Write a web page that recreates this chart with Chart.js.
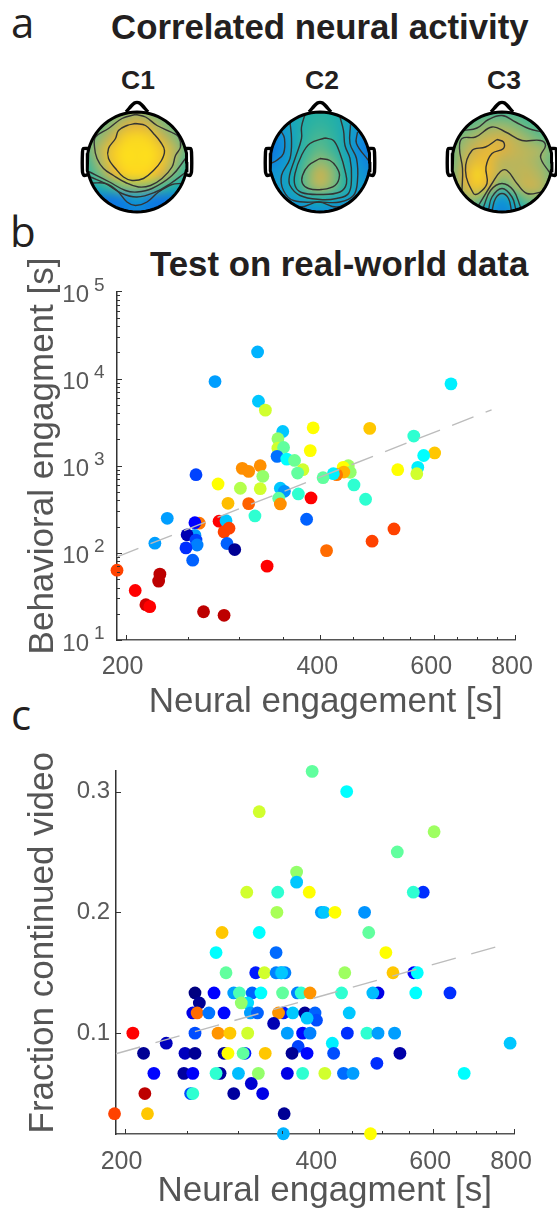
<!DOCTYPE html>
<html>
<head>
<meta charset="utf-8">
<script src="https://cdn.jsdelivr.net/npm/chart.js@4"></script>
<style>
  html, body { margin: 0; padding: 0; background: #fff; width: 557px; height: 1209px; overflow: hidden; }
  canvas { position: absolute; }
  .txt { position: absolute; white-space: nowrap; font-family: "Liberation Sans", sans-serif; color: #231f20; }
  .ttl { font-weight: bold; font-size: 34.8px; line-height: 40px; }
  .cap { font-weight: bold; font-size: 26.5px; line-height: 30px; width: 60px; text-align: center; }
  .pan { font-family: "Open Sans", sans-serif; font-size: 42px; line-height: 50px; }
</style>
</head>
<body>
<div class="txt pan" style="left:11px;top:-3px">a</div>
<div class="txt pan" style="left:10px;top:206px">b</div>
<div class="txt pan" style="left:11px;top:689px">c</div>
<div class="txt ttl" style="left:111px;top:7px">Correlated neural activity</div>
<div class="txt ttl" style="left:150px;top:244px">Test on real-world data</div>
<div class="txt cap" style="left:108px;top:65px">C1</div>
<div class="txt cap" style="left:292px;top:65px">C2</div>
<div class="txt cap" style="left:474px;top:65px">C3</div>
<canvas id="headC1" width="130" height="130" style="left:72px;top:97px"></canvas>
<canvas id="headC2" width="130" height="130" style="left:255px;top:97px"></canvas>
<canvas id="headC3" width="130" height="130" style="left:437px;top:97px"></canvas>
<canvas id="chartB" width="557" height="481" style="left:0;top:249px"></canvas>
<canvas id="chartC" width="557" height="472" style="left:0;top:740px"></canvas>
<script>
// panel b: neural vs behavioral engagement
const bX = [320,275,321,329,350,344,390,344,351,386,343,355,365,376,369,303,310,323,326,257,278,301,323,347,352,345,370,387,288,310,347,317,232,381,260,256,279,286,289,284,256,249,257,258,248,287,295,222,254,331,194,226,225,207,215,218,264,284,637,477,558,601,578,566,564,527,442,434,445,435,424,419,404,451,470,481,520,409];
const bY = [20200,9240,5500,4340,2470,2040,2720,1590,1620,1490,1280,1190,1150,900,824,932,861,1000,755,789,617,551,545,551,508,423,474,427,370,367,364,265,249,243,219,222,231,234,192,174,159,161,140,123,114,128,109,129,82.4,70.4,63.3,57,47.4,37,25.4,24.1,21.1,19.2,8690,2680,2190,1400,1310,957,810,900,1000,957,839,846,789,810,729,601,412,136,188,106];
const bColor = [.3,.28,.32,.58,.32,.52,.625,.58,.47,.625,.235,.375,.48,.58,.47,.735,.735,.735,.52,.19,.625,.55,.58,.32,.27,.47,.42,.875,.69,.78,.735,.42,.28,.22,.76,.125,.875,.32,.81,.81,.28,.05,.19,.25,.17,.22,.02,.28,.22,.875,.81,.94,.94,.875,.92,.875,.94,.94,.36,.68,.42,.68,.375,.36,.58,.625,.53,.625,.52,.7,.76,.36,.47,.42,.42,.81,.81,.77];
const bTrendX = [194, 736];
const bTrendY = [90, 4380];

// panel c: neural engagement vs fraction continued
const cX = [390,441,323,602,528,369,369,309,345,386,579,559,344,403,407,423,470,283,323,477,277,343,507,287,319,329,343,354,349,350,438,520,560,567,257,275,295,301,315,325,351,370,375,387,433,493,484,564,637,261,310,303,255,259,270,285,313,321,352,346,364,380,394,445,340,396,383,206,257,279,291,310,357,377,387,442,474,493,523,232,419,789,371,214,248,257,285,289,307,305,330,363,383,421,533,491,222,247,255,281,277,300,322,357,377,408,436,451,670,314,215,253,255,295,327,193,217,353,352,480];
const cY = [.3167,.3,.2833,.2667,.25,.2333,.225,.2167,.2167,.2167,.2167,.2167,.2,.2,.2,.2,.2,.1833,.1833,.1833,.1667,.1667,.1667,.15,.15,.15,.15,.15,.15,.15,.15,.15,.15,.15,.1333,.1333,.1333,.1333,.1333,.1333,.1333,.1333,.1333,.1333,.1333,.1333,.1333,.1333,.1333,.125,.125,.125,.1167,.1167,.1167,.1167,.1167,.1167,.1167,.1167,.1167,.1167,.1167,.1167,.108,.1107,.1124,.1,.1,.1,.1,.1,.1,.1,.1,.1,.1,.1,.1,.0917,.0917,.0917,.089,.0833,.0833,.0833,.0833,.0833,.0833,.0833,.0833,.0833,.0833,.0833,.0833,.075,.0667,.0667,.0667,.0667,.0667,.0667,.0667,.0667,.0667,.0667,.0667,.0667,.0667,.0583,.05,.05,.05,.05,.05,.0333,.0333,.0333,.0167,.0167];
const cColor = [.47,.375,.58,.53,.47,.52,.32,.58,.42,.625,.17,.42,.54,.28,.32,.625,.27,.68,.375,.47,.375,.23,.625,.47,.15,.58,.25,.25,.28,.32,.53,.68,.125,.375,0,.125,.28,.45,.22,.375,.47,.25,.42,.73,.42,.1,.31,.375,.17,.02,.34,.52,.1,.77,.24,.13,.28,.22,.15,.73,.32,.02,.22,.32,.05,.2,.32,.875,.2,.73,.68,.58,.28,.13,.25,.17,.42,.28,.28,.06,.36,.32,.19,.02,.06,.02,.03,.625,.15,.47,.68,.02,.13,.2,.04,.17,.13,.03,.12,.03,.42,.31,.52,.1,.42,.58,.23,.28,.375,.08,.94,.2,.42,.03,.1,.81,.68,.02,.3,.625];
const cTrendX = [194, 789];
const cTrendY = [.0829, .1747];

// axis ticks
const xTicks = [200,250,300,350,400,450,500,550,600,650,700,750,800];
const xLabels = [200,400,600,800];
const bDecades = [10,100,1000,10000];
const bYTop = 100000;
const cYTicks = [.1,.2,.3];

// scalp maps, rows run from front of head to back
const c1Grid = [
  [.6,.6,.6,.62,.68,.62,.6,.6,.6],
  [.55,.57,.66,.8,.86,.8,.66,.57,.55],
  [.55,.65,.8,.95,.98,.95,.8,.65,.55],
  [.58,.74,.93,1,1,1,.93,.74,.58],
  [.5,.7,.92,1,1,1,.92,.7,.5],
  [.45,.6,.82,.95,.98,.95,.82,.6,.45],
  [.32,.38,.5,.63,.66,.63,.5,.38,.32],
  [.08,.06,.04,.12,.25,.1,.04,.06,.08],
  [.05,.05,.05,.06,.1,.06,.05,.05,.05]
];
const c2Grid = [
  [.3,.3,.35,.4,.42,.4,.35,.3,.25],
  [.2,.25,.33,.42,.45,.42,.33,.22,.15],
  [.08,.18,.33,.45,.5,.45,.33,.18,.08],
  [.03,.15,.33,.48,.56,.48,.33,.15,.05],
  [.1,.2,.35,.55,.66,.58,.38,.2,.1],
  [.2,.25,.38,.62,.78,.65,.42,.25,.15],
  [.22,.25,.38,.6,.72,.62,.42,.27,.2],
  [.2,.2,.25,.33,.38,.33,.27,.2,.15],
  [.12,.12,.12,.14,.18,.14,.12,.12,.12]
];
const c3Grid = [
  [.45,.45,.48,.5,.5,.5,.48,.45,.45],
  [.5,.52,.6,.65,.66,.62,.55,.5,.45],
  [.55,.65,.72,.78,.8,.74,.66,.58,.55],
  [.6,.72,.82,.88,.84,.78,.74,.7,.6],
  [.6,.78,.9,.88,.76,.75,.74,.68,.58],
  [.62,.85,.97,.88,.72,.74,.77,.72,.62],
  [.6,.8,.92,.8,.55,.68,.78,.75,.62],
  [.55,.65,.65,.45,.2,.42,.6,.62,.55],
  [.5,.5,.4,.2,.12,.2,.4,.5,.5]
];
const c1Contours = [
  [[-.03,.77],[.17,.73],[.33,.57],[.47,.4],[.55,.23],[.49,.03],[.33,-.17],[.13,-.33],[-.1,-.37],[-.27,-.3],[-.43,-.13],[-.57,.07],[-.57,.27],[-.43,.47],[-.37,.63],[-.2,.73],[-.03,.77]],
  [[-.03,.95],[.17,.9],[.4,.73],[.7,.59],[.83,.5],[.87,.3],[.77,.13],[.7,-.1],[.5,-.33],[.27,-.47],[.03,-.5],[-.23,-.41],[-.47,-.27],[-.67,-.13],[-.8,.07],[-.85,.3],[-.83,.5],[-.57,.67],[-.3,.87],[-.03,.95]],
  [[-.97,-.19],[-.57,-.39],[-.23,-.57],[0,-.6],[.3,-.53],[.7,-.27],[.97,.07]],
  [[-.93,-.3],[-.63,-.43],[-.3,-.63],[0,-.7],[.37,-.6],[.67,-.43],[.97,-.21]],
  [[-.9,-.42],[-.63,-.43],[-.4,-.57],[-.2,-.8],[-.03,-.87],[.2,-.8],[.43,-.6],[.7,-.45],[.9,-.43]]
];
const c2Contours = [
  [[0,.07],[.2,.03],[.33,-.1],[.39,-.27],[.3,-.47],[.03,-.55],[-.23,-.53],[-.35,-.43],[-.35,-.27],[-.23,-.07],[0,.07]],
  [[.1,.48],[.27,.43],[.4,.17],[.5,-.17],[.53,-.43],[.4,-.6],[0,-.65],[-.37,-.61],[-.5,-.47],[-.5,-.23],[-.37,.13],[-.2,.37],[.1,.48]],
  [[-.3,.95],[-.37,.7],[-.37,.47],[-.5,.07],[-.61,-.27],[-.6,-.47],[-.4,-.67],[0,-.75],[.33,-.73],[.57,-.63],[.63,-.3],[.6,.07],[.5,.33],[.47,.63],[.4,.9]],
  [[-.6,.8],[-.57,.47],[-.6,.07],[-.77,-.27],[-.73,-.57],[-.53,-.77],[0,-.8],[.4,-.8],[.67,-.67],[.75,-.37],[.73,.07],[.6,.37],[.61,.75]],
  [[-.78,.62],[-.71,.47],[-.73,.17],[-.87,.03],[-.98,-.03]],
  [[.75,.6],[.73,.37],[.97,.03]],
  [[-.62,-.78],[-.4,-.9],[-.03,-.8],[.33,-.9],[.62,-.78]]
];
const c3Contours = [
  [[-.77,.63],[-.5,.68],[-.27,.85],[0,.93],[.27,.8],[.53,.67],[.8,.6]],
  [[-.8,-.57],[-.79,-.13],[-.85,.27],[-.8,.47],[-.53,.5],[-.2,.7],[.07,.6],[.4,.43],[.77,.43],[.87,.33],[.77,.1],[.95,-.21]],
  [[-.1,.45],[.03,.4],[.03,.27],[-.2,.17],[-.32,-.1],[-.3,-.43],[-.47,-.63],[-.57,-.63],[-.73,-.17],[-.6,.23],[-.33,.3],[-.1,.45]],
  [[-.47,-.87],[-.2,-.43],[-.03,-.19],[.1,-.17],[.3,-.43],[.5,-.63],[.8,-.6]],
  [[-.37,-.9],[-.23,-.57],[0,-.43],[.23,-.57],[.37,-.9]],
  [[-.27,-.96],[-.2,-.7],[0,-.53],[.2,-.7],[.28,-.96]],
  [[-.2,-.98],[-.13,-.73],[0,-.63],[.13,-.73],[.19,-.98]]
];
const noseLine = [[-.22,1.0],[-.05,1.18],[.05,1.18],[.22,1.0]];
const earLeft = [[-.98,.27],[-1.07,.27],[-1.09,.2],[-1.09,-.2],[-1.06,-.27],[-.97,-.25]];
const earRight = earLeft.map(p => [-p[0], p[1]]);

const sansFont = '"Liberation Sans", sans-serif';

function clamp01(v) { return Math.max(0, Math.min(1, v)); }

// jet colours for the scatter points
function jet(t) {
  const r = clamp01(1.5 - Math.abs(4 * t - 3));
  const g = clamp01(1.5 - Math.abs(4 * t - 2));
  const b = clamp01(1.5 - Math.abs(4 * t - 1));
  return 'rgb(' + Math.round(r * 255) + ',' + Math.round(g * 255) + ',' + Math.round(b * 255) + ')';
}

// colour ramp of the scalp maps
const rampStops = [[0,15,111,224],[.2,16,150,214],[.4,32,176,168],[.55,90,185,138],[.7,168,184,104],[.85,224,176,64],[1,252,220,30]];
function ramp(t) {
  for (let i = 1; i < rampStops.length; i++) {
    if (t <= rampStops[i][0]) {
      const a = rampStops[i - 1], b = rampStops[i];
      const f = (t - a[0]) / (b[0] - a[0]);
      return [1, 2, 3].map(k => a[k] + (b[k] - a[k]) * f);
    }
  }
  return rampStops[rampStops.length - 1].slice(1);
}

// inward tick marks, matlab style
const innerTicks = {
  id: 'innerTicks',
  afterDatasetsDraw(chart) {
    const ctx = chart.ctx;
    const area = chart.chartArea;
    ctx.save();
    ctx.strokeStyle = '#333';
    ctx.lineWidth = 1;
    chart.scales.x.ticks.forEach(t => {
      const px = Math.round(chart.scales.x.getPixelForValue(t.value)) + .5;
      const len = xLabels.includes(t.value) ? 5 : 3;
      ctx.beginPath();
      ctx.moveTo(px, area.bottom);
      ctx.lineTo(px, area.bottom - len);
      ctx.stroke();
    });
    chart.scales.y.ticks.forEach(t => {
      const py = Math.round(chart.scales.y.getPixelForValue(t.value)) + .5;
      const isMajor = chart.canvas.id === 'chartC' || Number.isInteger(Math.log10(t.value));
      ctx.beginPath();
      ctx.moveTo(area.left, py);
      ctx.lineTo(area.left + (isMajor ? 5 : 3), py);
      ctx.stroke();
    });
    ctx.restore();
  }
};

// small raised exponent next to the "10" tick labels
const exponents = {
  id: 'exponents',
  afterDraw(chart) {
    const ctx = chart.ctx;
    const y = chart.scales.y;
    ctx.save();
    ctx.fillStyle = '#595959';
    ctx.font = '19px ' + sansFont;
    ctx.textAlign = 'left';
    ctx.textBaseline = 'middle';
    bDecades.concat([bYTop]).forEach(v => {
      ctx.fillText(String(Math.round(Math.log10(v))), 94, y.getPixelForValue(v) - 6);
    });
    ctx.restore();
  }
};

function trendSet(xs, ys, dash) {
  return {
    data: xs.map((v, i) => ({ x: v, y: ys[i] })),
    showLine: true,
    pointRadius: 0,
    borderColor: '#bcbcbc',
    borderWidth: 1.4,
    borderDash: dash,
    clip: false
  };
}

function scatterSet(xs, ys, cs) {
  return {
    data: xs.map((v, i) => ({ x: v, y: ys[i] })),
    pointRadius: 6.4,
    pointBorderWidth: 0,
    pointBackgroundColor: cs.map(jet),
    clip: false
  };
}

function xAxis(label, heightLeft, tickPad, titlePad) {
  return {
    type: 'logarithmic',
    bounds: 'data',
    min: 194,
    max: 800,
    afterBuildTicks: s => { s.ticks = xTicks.map(v => ({ value: v })); },
    afterFit: s => { s.height = heightLeft; },
    grid: { display: false, drawTicks: false },
    border: { display: true, color: '#555', width: 1.5 },
    ticks: {
      autoSkip: false, maxRotation: 0, minRotation: 0, padding: tickPad, labelOffset: -3,
      color: '#595959',
      font: { family: sansFont, size: 25 },
      callback: v => xLabels.includes(v) ? String(v) : ''
    },
    title: { display: true, text: label, color: '#555', font: { family: sansFont, size: 35 }, padding: { top: 0, bottom: titlePad } }
  };
}

// panel b
new Chart(document.getElementById('chartB'), {
  type: 'scatter',
  data: { datasets: [trendSet(bTrendX, bTrendY, [23, 13]), scatterSet(bX, bY, bColor)] },
  options: {
    responsive: false,
    animation: false,
    // tick padding counts towards the top margin, so this cannot go lower than 42
    layout: { padding: { top: 42, right: 42, left: 0, bottom: 0 } },
    plugins: { legend: { display: false }, tooltip: { enabled: false } },
    scales: {
      x: xAxis('  Neural engagement [s]', 90, 12, 7),
      y: {
        type: 'logarithmic',
        bounds: 'data',
        min: 10,
        max: bYTop,
        afterBuildTicks: s => {
          const vals = [];
          bDecades.forEach(d => { for (let k = 1; k < 10; k++) vals.push(d * k); });
          vals.push(bYTop);
          s.ticks = vals.map(v => ({ value: v }));
        },
        afterFit: s => { s.width = 117; },
        grid: { display: false, drawTicks: false },
        border: { display: true, color: '#333', width: 1.5 },
        ticks: {
          autoSkip: false, padding: 28, labelOffset: 4,
          color: '#595959',
          font: { family: sansFont, size: 24 },
          callback: v => Number.isInteger(Math.log10(v)) ? '10' : ''
        },
        title: { display: true, text: '  Behavioral engagment [s]', color: '#555', font: { family: sansFont, size: 35 }, padding: { top: 22, bottom: 0 } }
      }
    }
  },
  plugins: [innerTicks, exponents]
});

// panel c
new Chart(document.getElementById('chartC'), {
  type: 'scatter',
  data: { datasets: [trendSet(cTrendX, cTrendY, [25, 16]), scatterSet(cX, cY, cColor)] },
  options: {
    responsive: false,
    animation: false,
    layout: { padding: { top: 31, right: 43, left: 0, bottom: 0 } },
    plugins: { legend: { display: false }, tooltip: { enabled: false } },
    scales: {
      x: xAxis('  Neural engagment [s]', 78, 13, 0),
      y: {
        min: .0165,
        max: .317,
        afterBuildTicks: s => { s.ticks = cYTicks.map(v => ({ value: v })); },
        afterFit: s => { s.width = 116; },
        grid: { display: false, drawTicks: false },
        border: { display: true, color: '#333', width: 1.5 },
        ticks: {
          autoSkip: false, padding: 6,
          color: '#595959',
          font: { family: sansFont, size: 24 },
          callback: v => v.toFixed(1)
        },
        title: { display: true, text: '  Fraction continued video', color: '#555', font: { family: sansFont, size: 35 }, padding: { top: 22, bottom: 0 } }
      }
    }
  },
  plugins: [innerTicks]
});

// scalp map: coarse grid smoothed by the canvas, clipped to the head circle
function scalpHeat(grid) {
  return {
    id: 'scalpHeat',
    beforeDatasetsDraw(chart) {
      const n = grid.length;
      const off = document.createElement('canvas');
      off.width = n;
      off.height = n;
      const octx = off.getContext('2d');
      const img = octx.createImageData(n, n);
      grid.forEach((row, r) => row.forEach((v, c) => {
        const rgb = ramp(v);
        const i = (r * n + c) * 4;
        img.data[i] = rgb[0];
        img.data[i + 1] = rgb[1];
        img.data[i + 2] = rgb[2];
        img.data[i + 3] = 255;
      }));
      octx.putImageData(img, 0, 0);
      const sx = chart.scales.x, sy = chart.scales.y;
      const x0 = sx.getPixelForValue(-1), x1 = sx.getPixelForValue(1);
      const y0 = sy.getPixelForValue(1), y1 = sy.getPixelForValue(-1);
      const ctx = chart.ctx;
      ctx.save();
      ctx.beginPath();
      ctx.arc((x0 + x1) / 2, (y0 + y1) / 2, (x1 - x0) / 2, 0, Math.PI * 2);
      ctx.clip();
      ctx.imageSmoothingEnabled = true;
      ctx.imageSmoothingQuality = 'high';
      // source rect runs centre to centre so grid nodes land on -1..1
      ctx.drawImage(off, .5, .5, n - 1, n - 1, x0, y0, x1 - x0, y1 - y0);
      ctx.restore();
    }
  };
}

function headLine(points, color, width, tension) {
  return {
    data: points.map(p => ({ x: p[0], y: p[1] })),
    showLine: true,
    pointRadius: 0,
    borderColor: color,
    borderWidth: width,
    tension: tension,
    clip: false
  };
}

function drawHead(id, grid, contours) {
  const circle = [];
  for (let a = 0; a <= 72; a++) circle.push([Math.cos(a * Math.PI / 36), Math.sin(a * Math.PI / 36)]);
  const sets = [headLine(circle, '#000', 3, 0), headLine(noseLine, '#000', 3.4, .3), headLine(earLeft, '#000', 3.4, .2), headLine(earRight, '#000', 3.4, .2)];
  contours.forEach(c => sets.push(headLine(c, '#333', 1.4, .4)));
  new Chart(document.getElementById(id), {
    type: 'scatter',
    data: { datasets: sets },
    options: {
      responsive: false,
      animation: false,
      plugins: { legend: { display: false }, tooltip: { enabled: false } },
      scales: {
        x: { display: false, min: -1.3, max: 1.3 },
        y: { display: false, min: -1.3, max: 1.3 }
      }
    },
    plugins: [scalpHeat(grid)]
  });
}

drawHead('headC1', c1Grid, c1Contours);
drawHead('headC2', c2Grid, c2Contours);
drawHead('headC3', c3Grid, c3Contours);
</script>
</body>
</html>
